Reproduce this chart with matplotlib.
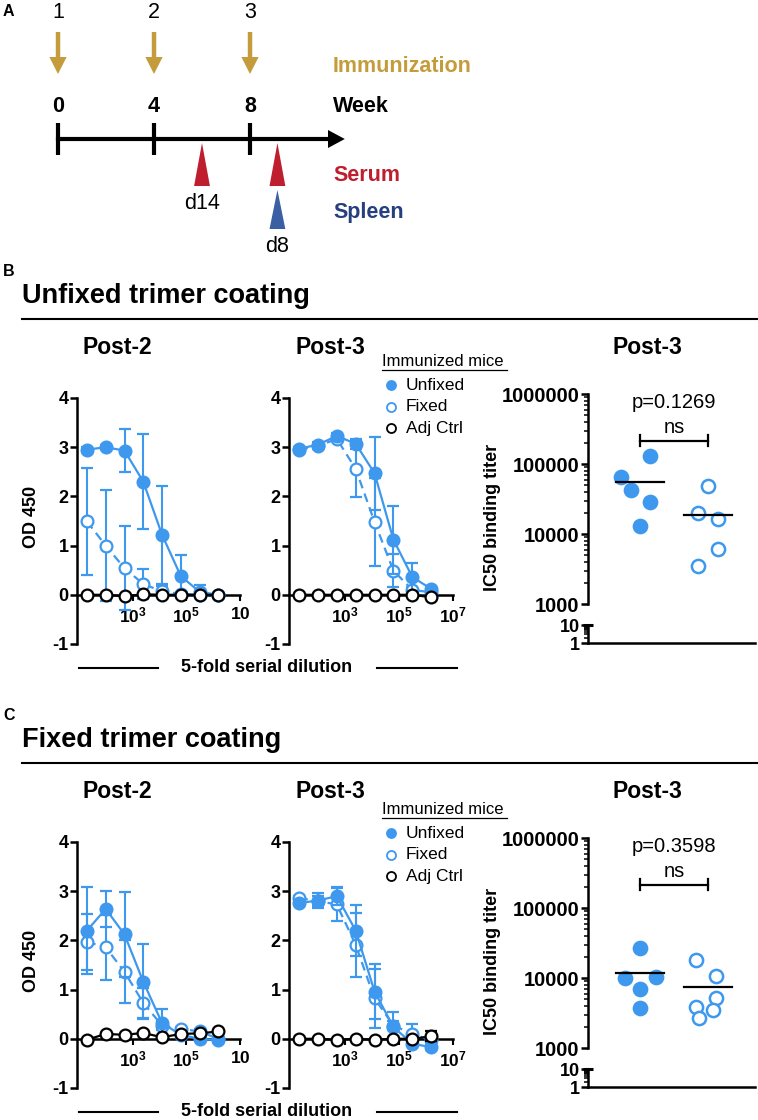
import numpy as np
import matplotlib
matplotlib.use('Agg')
import matplotlib.pyplot as plt
from matplotlib.lines import Line2D
from matplotlib.patches import Polygon
from matplotlib.ticker import LogLocator, NullFormatter, NullLocator

plt.rcParams['font.family'] = ['Liberation Sans', 'DejaVu Sans']
plt.rcParams['mathtext.fontset'] = 'custom'
plt.rcParams['mathtext.rm'] = 'Liberation Sans'
plt.rcParams['mathtext.bf'] = 'Liberation Sans:bold'

W, H = 758, 1120
BLUE = '#3d98ee'
GOLD = '#c49c3c'
RED = '#be1e2d'
NAVY = '#253f7f'
TRI_BLUE = '#3a5fa3'

# ---------------- data ----------------
# A: immunization schedule (weeks)
imm_weeks = [0, 4, 8]
imm_labels = ['1', '2', '3']
serum_weeks = [4 + 14 / 7, 8 + 8 / 7]
spleen_weeks = [8 + 8 / 7]

# 5-fold serial dilution
dilution = [20, 100, 500, 2500, 12500, 62500, 312500, 1562500]

# B: unfixed trimer coating, OD450 mean / SD
b2_unf = [2.95, 3.00, 2.93, 2.30, 1.22, 0.38, 0.06, 0.00]
b2_unf_sd = [0.05, 0.04, 0.43, 0.97, 1.00, 0.43, 0.13, 0.03]
b2_fix = [1.49, 1.00, 0.54, 0.22, 0.07, 0.02, 0.00, 0.00]
b2_fix_sd = [1.08, 1.12, 0.85, 0.30, 0.10, 0.04, 0.02, 0.01]
b2_adj = [0.00, 0.00, -0.03, 0.01, 0.00, 0.00, 0.00, 0.00]
b2_adj_sd = [0.01, 0.01, 0.01, 0.01, 0.01, 0.01, 0.01, 0.01]

b3_unf = [2.97, 3.05, 3.23, 3.07, 2.47, 1.12, 0.36, 0.12]
b3_unf_sd = [0.04, 0.05, 0.05, 0.10, 0.74, 0.69, 0.28, 0.05]
b3_fix = [2.95, 3.02, 3.17, 2.56, 1.48, 0.49, 0.10, 0.05]
b3_fix_sd = [0.04, 0.05, 0.05, 0.57, 0.90, 0.34, 0.05, 0.03]
b3_adj = [0.00, 0.00, 0.00, 0.00, 0.00, 0.00, 0.00, -0.05]
b3_adj_sd = [0.01, 0.01, 0.01, 0.01, 0.01, 0.01, 0.01, 0.02]

# C: fixed trimer coating
c2_unf = [2.20, 2.64, 2.12, 1.16, 0.32, 0.08, 0.00, -0.03]
c2_unf_sd = [0.88, 0.37, 0.86, 0.76, 0.28, 0.05, 0.03, 0.03]
c2_fix = [1.97, 1.86, 1.36, 0.73, 0.27, 0.20, 0.15, 0.00]
c2_fix_sd = [0.57, 0.66, 0.64, 0.30, 0.10, 0.05, 0.04, 0.03]
c2_adj = [-0.02, 0.10, 0.08, 0.12, 0.03, 0.10, 0.11, 0.15]
c2_adj_sd = [0.01, 0.01, 0.01, 0.01, 0.01, 0.01, 0.01, 0.01]

c3_unf = [2.76, 2.81, 2.90, 2.20, 0.96, 0.24, -0.10, -0.17]
c3_unf_sd = [0.05, 0.15, 0.18, 0.52, 0.56, 0.30, 0.05, 0.05]
c3_fix = [2.86, 2.80, 2.73, 1.91, 0.82, 0.27, 0.10, -0.03]
c3_fix_sd = [0.05, 0.10, 0.33, 0.65, 0.60, 0.10, 0.20, 0.05]
c3_adj = [0.00, 0.00, -0.02, 0.00, -0.02, 0.00, 0.00, 0.05]
c3_adj_sd = [0.01, 0.01, 0.01, 0.01, 0.01, 0.01, 0.01, 0.10]

# Post-3 IC50 binding titers
b_titer_unf = [66000, 42600, 130000, 28800, 13200]
b_titer_fix = [48000, 20000, 16600, 6100, 3500]
c_titer_unf = [27000, 9900, 10500, 6900, 3700]
c_titer_fix = [18000, 10600, 5200, 3900, 3500, 2700]
b_pval = 'p=0.1269'
c_pval = 'p=0.3598'

legend_labels = ['Unfixed', 'Fixed', 'Adj Ctrl']

# scatter jitter (layout only)
b_jit_unf = [-0.28, -0.13, 0.15, 0.15, 0.0]
b_jit_fix = [0.0, -0.15, 0.15, 0.15, -0.15]
c_jit_unf = [0.0, -0.22, 0.23, 0.0, 0.0]
c_jit_fix = [-0.17, 0.12, 0.12, -0.17, 0.07, -0.13]

fig = plt.figure(figsize=(W / 100, H / 100), dpi=100)


def fx(x):
    return x / W


def fy(y):
    return 1 - y / H


def axes_px(x0, y0, x1, y1):
    return fig.add_axes([x0 / W, 1 - y1 / H, (x1 - x0) / W, (y1 - y0) / H])


# ---------------- panel A ----------------
axa = axes_px(0, 0, W, 262)
axa.set_xlim(-58 / 24, (W - 58) / 24)
axa.set_ylim(262, 0)
axa.axis('off')
fig.text(fx(3), fy(11), 'A', fontsize=11.5, fontweight='bold', va='center')

for w, lab in zip(imm_weeks, imm_labels):
    axa.text(w, 12, lab, fontsize=15.5, ha='center', va='center')
    axa.plot([w, w], [32, 60], color=GOLD, lw=3.2, solid_capstyle='butt')
    axa.add_patch(Polygon([(w - 0.36, 57), (w + 0.36, 57), (w, 74)], closed=True, color=GOLD, lw=0))
    axa.text(w, 106, str(w), fontsize=15.5, fontweight='bold', ha='center', va='center')
    axa.plot([w, w], [123, 155], color='black', lw=3, solid_capstyle='butt')

axa.plot([0, 11.4], [139, 139], color='black', lw=3)
axa.add_patch(Polygon([(11.25, 130), (11.25, 148), (11.95, 139)], closed=True, color='black', lw=0))

for s in serum_weeks:
    axa.add_patch(Polygon([(s - 0.33, 186), (s + 0.33, 186), (s, 143)], closed=True, color=RED, lw=0))
for s in spleen_weeks:
    axa.add_patch(Polygon([(s - 0.33, 229), (s + 0.33, 229), (s, 190)], closed=True, color=TRI_BLUE, lw=0))
axa.text(serum_weeks[0], 203, 'd14', fontsize=15.5, ha='center', va='center')
axa.text(spleen_weeks[0], 246, 'd8', fontsize=15.5, ha='center', va='center')

key_x = (333 - 58) / 24
axa.text(key_x, 67, 'Immunization', color=GOLD, fontsize=15.5, fontweight='bold', va='center')
axa.text(key_x, 106, 'Week', color='black', fontsize=15.5, fontweight='bold', va='center')
axa.text(key_x, 175, 'Serum', color=RED, fontsize=15.5, fontweight='bold', va='center')
axa.text(key_x, 212, 'Spleen', color=NAVY, fontsize=15.5, fontweight='bold', va='center')


# ---------------- panels B / C ----------------
def od_panel(ax, unf, unf_sd, fix, fix_sd, adj, adj_sd, xlabels):
    common = dict(marker='o', ms=8.5, mew=1.6, capsize=4.5, capthick=1.5,
                  elinewidth=1.5, lw=1.6, clip_on=False)
    ax.errorbar(dilution, fix, yerr=fix_sd, color=BLUE, ls=(0, (4, 2.5)),
                mfc='white', mec=BLUE, zorder=3, **common)
    ax.errorbar(dilution, unf, yerr=unf_sd, color=BLUE, mfc=BLUE, mec=BLUE,
                zorder=4, **common)
    ax.errorbar(dilution, adj, yerr=adj_sd, color='black', mfc='white',
                mec='black', zorder=5, **common)
    ax.set_xscale('log')
    ax.set_xlim(10 ** 0.93, 1e7)
    ax.set_ylim(-1, 4)
    for sp in ['top', 'right']:
        ax.spines[sp].set_visible(False)
    ax.spines['bottom'].set_position(('data', 0))
    for sp in ['left', 'bottom']:
        ax.spines[sp].set_linewidth(1.8)
    ax.set_yticks([-1, 0, 1, 2, 3, 4], labels=['-1', '0', '1', '2', '3', '4'],
                  fontsize=13, fontweight='bold')
    ax.set_xticks([1e3, 1e5, 1e7], labels=xlabels, fontsize=12.5)
    ax.xaxis.set_minor_locator(NullLocator())
    ax.tick_params(axis='y', length=5, width=1.8, pad=1)
    ax.tick_params(axis='x', length=4, width=1.5, pad=4)


def titer_panel(axm, axl, unf, fix, jit_unf, jit_fix, pval):
    for x0, vals, jit, face in [(1, unf, jit_unf, BLUE), (2, fix, jit_fix, 'white')]:
        axm.plot(x0 + np.array(jit), vals, 'o', ms=9.5, mfc=face, mec=BLUE,
                 mew=1.8, clip_on=False, zorder=3)
        m = np.mean(vals)
        axm.plot([x0 - 0.35, x0 + 0.35], [m, m], color='black', lw=1.6, zorder=4)
    yb = 10 ** 5.33
    axm.plot([1, 2], [yb, yb], color='black', lw=1.6)
    for xb in [1, 2]:
        axm.plot([xb, xb], [yb / 1.2, yb * 1.2], color='black', lw=1.6)
    axm.annotate('ns', (1.5, yb), xytext=(0, 5.5), textcoords='offset points',
                 ha='center', va='baseline', fontsize=14.5)
    axm.annotate(pval, (1.5, yb), xytext=(0, 23.5), textcoords='offset points',
                 ha='center', va='baseline', fontsize=14.5)

    for ax in [axm, axl]:
        ax.set_yscale('log')
        ax.set_xlim(0.235, 2.69)
        ax.set_xticks([])
        for sp in ['top', 'right']:
            ax.spines[sp].set_visible(False)
        ax.spines['left'].set_linewidth(1.8)
        ax.yaxis.set_minor_locator(LogLocator(base=10, subs=np.arange(2, 10)))
        ax.yaxis.set_minor_formatter(NullFormatter())
        ax.tick_params(axis='y', which='major', length=5, width=1.8, pad=1)
        ax.tick_params(axis='y', which='minor', length=3, width=1.1)
    axm.spines['bottom'].set_visible(False)
    axm.set_ylim(1e3, 1e6)
    axm.set_yticks([1e3, 1e4, 1e5, 1e6], labels=['1000', '10000', '100000', '1000000'],
                   fontsize=14.5, fontweight='bold')
    axl.set_ylim(1, 10)
    axl.set_yticks([1, 10], labels=['1', '10'], fontsize=13, fontweight='bold')
    axl.spines['bottom'].set_linewidth(1.8)
    axl.plot([-0.03, 0.03], [1, 1], transform=axl.transAxes, color='black',
             lw=2.2, clip_on=False, solid_capstyle='butt')


def section(dy, leg_y, letter, title, post2, post3, titers):
    fig.text(fx(3), fy(272 + dy), letter, fontsize=11.5, fontweight='bold', va='center')
    fig.text(fx(22), fy(303 + dy), title, fontsize=19.5, fontweight='bold', va='baseline')
    fig.add_artist(Line2D([fx(22), fx(W)], [fy(319 + dy)] * 2, color='black', lw=1.5,
                          transform=fig.transFigure))
    fig.text(fx(117), fy(354 + dy), 'Post-2', fontsize=16.5, fontweight='bold',
             ha='center', va='baseline')
    fig.text(fx(330), fy(354 + dy), 'Post-3', fontsize=16.5, fontweight='bold',
             ha='center', va='baseline')
    fig.text(fx(647), fy(354 + dy), 'Post-3', fontsize=16.5, fontweight='bold',
             ha='center', va='baseline')

    ax2 = axes_px(77, 398 + dy, 240, 644 + dy)
    od_panel(ax2, *post2, [r'$\mathbf{10^3}$', r'$\mathbf{10^5}$', r'$\mathbf{10}$'])
    ax3 = axes_px(289, 398 + dy, 453, 644 + dy)
    od_panel(ax3, *post3, [r'$\mathbf{10^3}$', r'$\mathbf{10^5}$', r'$\mathbf{10^7}$'])
    fig.text(fx(32), fy(517 + dy), 'OD 450', rotation=90, fontsize=13, fontweight='bold',
             ha='center', va='center')

    # dilution label
    fig.text(fx(267), fy(668 + dy), '5-fold serial dilution', fontsize=13, fontweight='bold',
             ha='center', va='center')
    for x0, x1 in [(79, 158), (377, 457)]:
        fig.add_artist(Line2D([fx(x0), fx(x1)], [fy(668 + dy)] * 2, color='black', lw=1.5,
                              transform=fig.transFigure))

    # legend
    fig.text(fx(382), fy(leg_y), 'Immunized mice', fontsize=12, va='center')
    fig.add_artist(Line2D([fx(382), fx(507)], [fy(leg_y + 8)] * 2, color='black', lw=0.9,
                          transform=fig.transFigure))
    styles = [(BLUE, BLUE), ('white', BLUE), ('white', 'black')]
    for i, (lab, (fc, ec)) in enumerate(zip(legend_labels, styles)):
        yy = leg_y + 23 + i * 21.7
        fig.add_artist(Line2D([fx(391)], [fy(yy)], marker='o', ms=6.5, mfc=fc, mec=ec,
                              mew=1.3, transform=fig.transFigure))
        fig.text(fx(406), fy(yy), lab, fontsize=12.5, va='center')

    axm = axes_px(588, 394 + dy, 755, 604 + dy)
    axl = axes_px(588, 625 + dy, 755, 643 + dy)
    titer_panel(axm, axl, *titers)
    fig.text(fx(492), fy(517 + dy), 'IC50 binding titer', rotation=90, fontsize=13,
             fontweight='bold', ha='center', va='center')


section(0, 362, 'B', 'Unfixed trimer coating',
        (b2_unf, b2_unf_sd, b2_fix, b2_fix_sd, b2_adj, b2_adj_sd),
        (b3_unf, b3_unf_sd, b3_fix, b3_fix_sd, b3_adj, b3_adj_sd),
        (b_titer_unf, b_titer_fix, b_jit_unf, b_jit_fix, b_pval))
section(444, 810, 'C', 'Fixed trimer coating',
        (c2_unf, c2_unf_sd, c2_fix, c2_fix_sd, c2_adj, c2_adj_sd),
        (c3_unf, c3_unf_sd, c3_fix, c3_fix_sd, c3_adj, c3_adj_sd),
        (c_titer_unf, c_titer_fix, c_jit_unf, c_jit_fix, c_pval))

fig.savefig('out.png', dpi=100)
